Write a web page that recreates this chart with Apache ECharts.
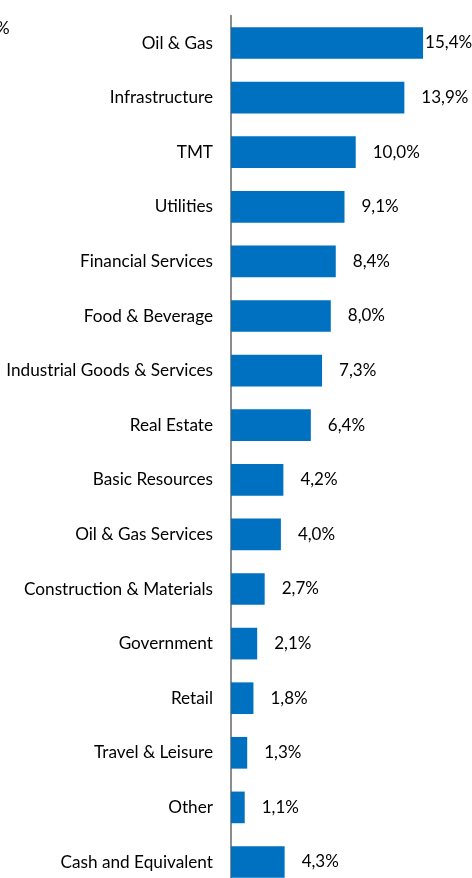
<!DOCTYPE html>
<html>
<head>
<meta charset="utf-8">
<script src="https://cdn.jsdelivr.net/npm/echarts@6/dist/echarts.min.js"></script>
<style>
html,body{margin:0;padding:0;background:#fff;overflow:hidden;width:472px;height:878px;}
#chart{width:472px;height:890px;}
</style>
</head>
<body>
<div id="chart"></div>
<script>
const categories = ["Oil & Gas","Infrastructure","TMT","Utilities","Financial Services","Food & Beverage","Industrial Goods & Services","Real Estate","Basic Resources","Oil & Gas Services","Construction & Materials","Government","Retail","Travel & Leisure","Other","Cash and Equivalent"];
const values = [15.4,13.9,10.0,9.1,8.4,8.0,7.3,6.4,4.2,4.0,2.7,2.1,1.8,1.3,1.1,4.3];

const chart = echarts.init(document.getElementById('chart'), null, {renderer:'canvas'});
const fmt = v => v.toFixed(1).replace('.', ',') + '%';
chart.setOption({
  animation:false,
  backgroundColor:'#fff',
  grid:{left:231, width:224.5, top:15.7, height:873.6, containLabel:false},
  xAxis:{type:'value', min:0, max:18, show:false},
  yAxis:{
    type:'category', data:categories, inverse:true,
    axisLine:{show:true, lineStyle:{color:'#8c8c8c', width:2}},
    axisTick:{show:false},
    axisLabel:{color:'#000', fontFamily:'Lato', fontSize:17.2, margin:18}
  },
  graphic:[{type:'text', left:-4, top:20, style:{text:'%', fontFamily:'Lato', fontSize:17, fill:'#000'}}],
  series:[{
    type:'bar', barWidth:'58%',
    itemStyle:{color:'#0070C0'},
    label:{show:true, position:'right', distance:17, color:'#000', fontFamily:'Lato', fontSize:17, formatter:p=>fmt(p.value)},
    data: values.map((v,i)=> i===0 ? {value:v, label:{distance:2}} : v)
  }]
});
</script>
</body>
</html>
